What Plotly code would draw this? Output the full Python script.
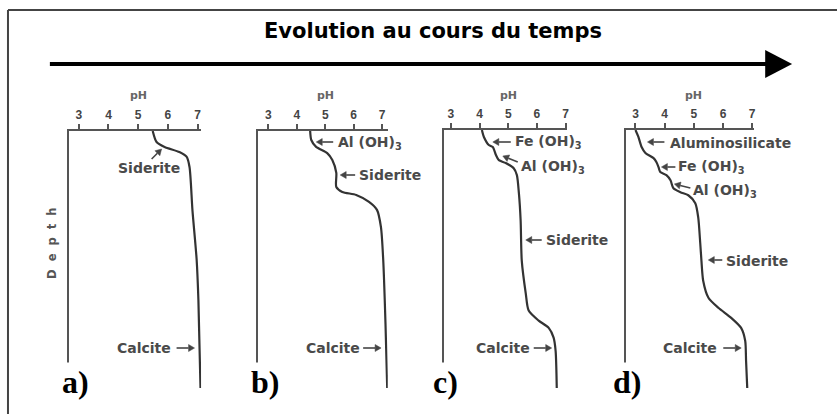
import math
import plotly.graph_objects as go

W, H = 839, 414

# pH profiles versus normalised depth (0 = surface, 1 = bottom)
depth_a = [0, 0.043, 0.062, 0.082, 0.10, 0.14, 0.31, 0.50, 0.66, 1.0]
ph_a = [5.49, 5.62, 5.89, 6.39, 6.63, 6.73, 6.83, 6.97, 7.03, 7.1]

depth_b = [0, 0.035, 0.062, 0.086, 0.113, 0.163, 0.218, 0.237, 0.249, 0.276, 0.307, 0.374, 0.502, 0.75, 1.0]
ph_b = [4.47, 4.51, 4.68, 5.07, 5.25, 5.39, 5.39, 5.6, 6.09, 6.54, 6.82, 6.96, 7.04, 7.12, 7.18]

depth_c = [0, 0.027, 0.058, 0.066, 0.097, 0.117, 0.128, 0.148, 0.175, 0.245, 0.35, 0.506,
           0.634, 0.70, 0.739, 0.767, 0.805, 0.856, 1.0]
ph_c = [4.08, 4.15, 4.32, 4.46, 4.57, 4.67, 4.91, 5.19, 5.30, 5.37, 5.43, 5.47,
        5.61, 5.71, 6.06, 6.41, 6.58, 6.65, 6.69]

depth_d = [0, 0.027, 0.066, 0.089, 0.109, 0.125, 0.144, 0.163, 0.175, 0.195, 0.226, 0.241, 0.253,
           0.284, 0.339, 0.44, 0.506, 0.584, 0.65, 0.689, 0.728, 0.767, 0.817, 0.895, 1.0]
ph_d = [3.0, 3.10, 3.21, 3.34, 3.62, 3.72, 3.79, 3.85, 4.06, 4.20, 4.30, 4.54, 4.81,
        5.05, 5.15, 5.22, 5.26, 5.32, 5.50, 5.84, 6.28, 6.62, 6.76, 6.79, 6.83]

ph_ticks = [3, 4, 5, 6, 7]
panel_names = ["a)", "b)", "c)", "d)"]

# labels: (text, left x px, centre y px) and arrows (tail -> head, px)
labels = [
    [("Siderite", 116, 168), ("Calcite", 115, 348)],
    [("Al (OH)<sub>3</sub>", 337, 143), ("Siderite", 358, 175), ("Calcite", 305, 348)],
    [("Fe (OH)<sub>3</sub>", 514, 142), ("Al (OH)<sub>3</sub>", 520, 167), ("Siderite", 545, 240),
     ("Calcite", 475, 348)],
    [("Aluminosilicate", 670, 143), ("Fe (OH)<sub>3</sub>", 678, 167), ("Al (OH)<sub>3</sub>", 693, 191),
     ("Siderite", 726, 261), ("Calcite", 663, 348)],
]
arrows = [
    [(152, 159, 162, 149), (177, 348, 195, 348)],
    [(334, 142, 317, 142), (356, 175, 341, 175), (364, 348, 382, 348)],
    [(512, 142, 494, 142), (519, 162, 504, 156), (543, 240, 527, 240), (535, 348, 553, 348)],
    [(666, 142, 649, 142), (677, 167, 663, 167), (692, 188, 676, 184), (724, 260, 710, 260),
     (725, 348, 743, 348)],
]

# panel geometry: x px of pH 3, x px of pH 7, pH range, top y px
panels = [
    (79, 198, 2.664, 7.12, 131),
    (269, 383, 2.65, 7.2, 131),
    (452, 567, 2.757, 7.05, 130),
    (637, 754, 2.658, 7.05, 130),
]
bottom_px = 388
label_pos = [(76, 382), (266, 382), (447, 382), (628, 382)]

depths = [depth_a, depth_b, depth_c, depth_d]
phs = [ph_a, ph_b, ph_c, ph_d]


def px(x, y):
    return x / W, 1 - y / H


fig = go.Figure()
axis_col = "#555555"
label_font = dict(family="DejaVu Sans", size=14, color="#4a4a4a", weight="bold")
annotations = []
shapes = []

for i, (p3, p7, lo, hi, top) in enumerate(panels):
    n = "" if i == 0 else str(i + 1)
    unit = (p7 - p3) / 4
    left = p3 + (lo - 3) * unit
    right = p3 + (hi - 3) * unit
    fig.add_trace(go.Scatter(
        x=phs[i], y=depths[i], mode="lines",
        line=dict(color="#333333", width=2.2, shape="spline", smoothing=0.7),
        xaxis="x" + n, yaxis="y" + n, hoverinfo="skip"
    ))
    fig.layout["xaxis" + n] = dict(
        domain=[left / W, right / W], range=[lo, hi], side="top", anchor="y" + n,
        showline=True, linecolor=axis_col, linewidth=2, ticks="outside", ticklen=5,
        tickwidth=1.5, tickcolor=axis_col, tickvals=ph_ticks, showgrid=False, zeroline=False,
        tickfont=dict(family="Liberation Sans", size=12, color="#444444", weight="bold")
    )
    fig.layout["yaxis" + n] = dict(
        domain=[1 - bottom_px / H, 1 - top / H], range=[1, 0], anchor="x" + n,
        showline=True, linecolor=axis_col, linewidth=2, showticklabels=False,
        ticks="", showgrid=False, zeroline=False
    )
    # pH axis title
    annotations.append(dict(
        text="pH", xref="x" + n, x=5, yref="paper", y=1 - 95 / H, showarrow=False,
        xanchor="center", yanchor="middle",
        font=dict(family="DejaVu Sans", size=11, color="#666666", weight="bold")
    ))
    for text, lx, ly in labels[i]:
        x, y = px(lx, ly)
        annotations.append(dict(text=text, x=x, y=y, xref="paper", yref="paper",
                                xanchor="left", yanchor="middle", showarrow=False,
                                font=label_font))
    # small pointer arrows drawn as line + triangular head
    for tx, ty, hx, hy in arrows[i]:
        ang = math.atan2(hy - ty, hx - tx)
        ux, uy = math.cos(ang), math.sin(ang)
        bx, by = hx - 6 * ux, hy - 6 * uy
        p_tail = px(tx, ty)
        p_base = px(bx, by)
        shapes.append(dict(type="line", xref="paper", yref="paper",
                           x0=p_tail[0], y0=p_tail[1], x1=p_base[0], y1=p_base[1],
                           line=dict(color="#444444", width=1.6)))
        h1 = px(hx, hy)
        h2 = px(bx - 3.5 * uy, by + 3.5 * ux)
        h3 = px(bx + 3.5 * uy, by - 3.5 * ux)
        shapes.append(dict(type="path", xref="paper", yref="paper",
                           path=f"M {h1[0]},{h1[1]} L {h2[0]},{h2[1]} L {h3[0]},{h3[1]} Z",
                           fillcolor="#444444", line=dict(color="#444444", width=0.5)))
    x, y = px(*label_pos[i])
    annotations.append(dict(text="<b>" + panel_names[i] + "</b>", x=x, y=y,
                            xref="paper", yref="paper", showarrow=False,
                            xanchor="center", yanchor="middle", bgcolor="white",
                            font=dict(family="Liberation Serif", size=32, color="black")))

# title and "Depth" label
x, y = px(434, 31)
annotations.append(dict(text="<b>Evolution au cours du temps</b>", x=x, y=y, xref="paper",
                        yref="paper", showarrow=False, xanchor="center", yanchor="middle",
                        font=dict(family="DejaVu Sans", size=21, color="black")))
x, y = px(52, 243)
annotations.append(dict(text="<b>D\u00a0\u00a0e\u00a0\u00a0p\u00a0\u00a0t\u00a0\u00a0h</b>", x=x, y=y,
                        xref="paper", yref="paper", showarrow=False, textangle=-90,
                        xanchor="center", yanchor="middle",
                        font=dict(family="DejaVu Sans", size=11.5, color="#555555")))

# frame (top and left edges)
x0, y0 = px(8, 10)
x1, _ = px(839, 10)
_, y1 = px(8, 414)
shapes.append(dict(type="line", xref="paper", yref="paper", x0=x0, y0=y0, x1=x1, y1=y0,
                   line=dict(color="#444444", width=2)))
shapes.append(dict(type="line", xref="paper", yref="paper", x0=x0, y0=y0, x1=x0, y1=y1,
                   line=dict(color="#444444", width=2)))
# time arrow
ax0, ay0 = px(50, 64)
ax1, _ = px(770, 64)
shapes.append(dict(type="line", xref="paper", yref="paper", x0=ax0, y0=ay0, x1=ax1, y1=ay0,
                   line=dict(color="black", width=4)))
t1 = px(767, 50)
t2 = px(794, 64)
t3 = px(767, 78)
shapes.append(dict(type="path", xref="paper", yref="paper",
                   path=f"M {t1[0]},{t1[1]} L {t2[0]},{t2[1]} L {t3[0]},{t3[1]} Z",
                   fillcolor="black", line=dict(color="black", width=0)))

fig.update_layout(
    width=W, height=H, autosize=False,
    margin=dict(l=0, r=0, t=0, b=0),
    paper_bgcolor="white", plot_bgcolor="white",
    showlegend=False,
    annotations=annotations, shapes=shapes
)

fig.write_html("out.html", config={"displayModeBar": False},
               post_script="document.body.style.margin='0';")
